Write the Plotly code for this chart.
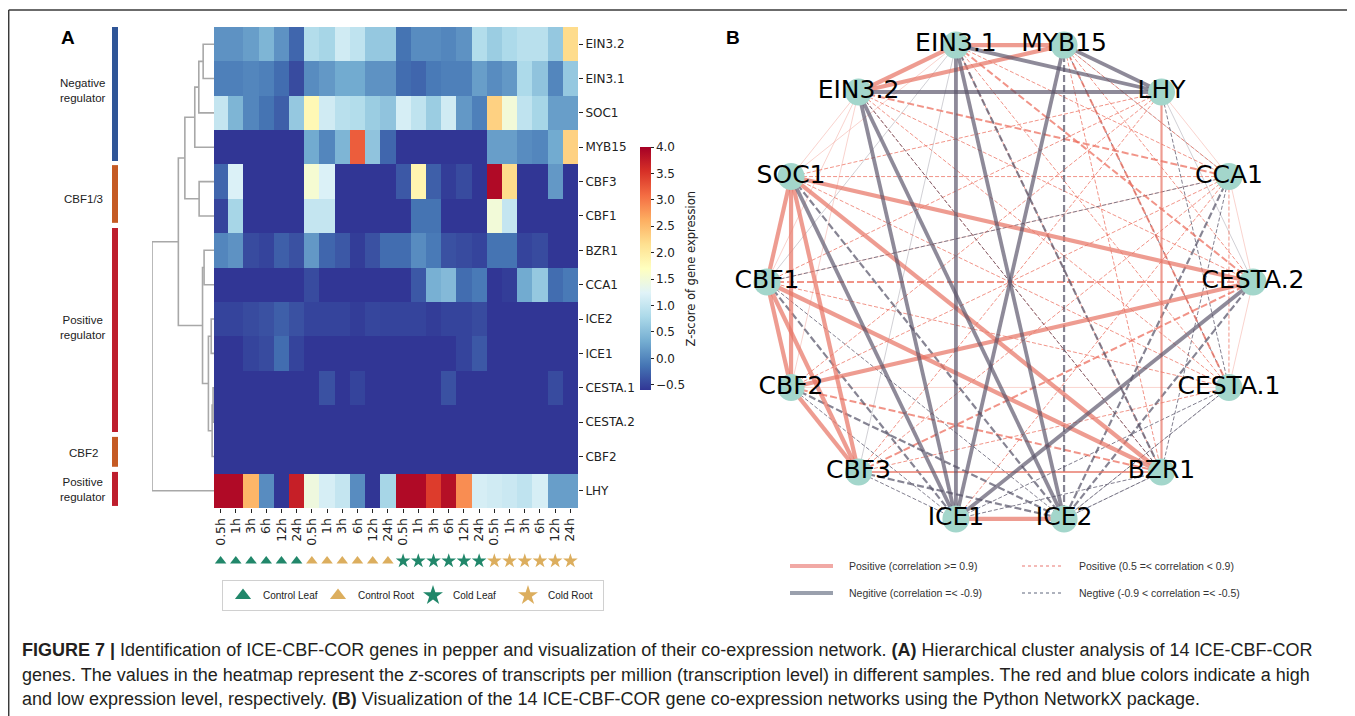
import math
import plotly.graph_objects as go

PAGE_W, PAGE_H = 1355, 716
OFF = 8  # default body margin of the html page
W, H = PAGE_W - OFF, PAGE_H - OFF


def px(x):
    return (x - OFF) / W


def py(y):
    return 1 - (y - OFF) / H


# ---------------- Panel A data ----------------
genes = ["EIN3.2", "EIN3.1", "SOC1", "MYB15", "CBF3", "CBF1", "BZR1",
         "CCA1", "ICE2", "ICE1", "CESTA.1", "CESTA.2", "CBF2", "LHY"]
time_points = ["0.5h", "1h", "3h", "6h", "12h", "24h"]
sample_groups = ["Control Leaf", "Control Root", "Cold Leaf", "Cold Root"]
sample_labels = time_points * 4

z_EIN3_2 = [0.1, 0.1, 0.2, 0.4, 0.1, -0.25, 0.85, 0.75, 1.1, 0.95, 0.6, 0.6,
            -0.15, 0.05, 0.05, 0.0, 0.1, 0.85, 0.65, 0.8, 0.9, 0.9, 0.6, 2.2]
z_EIN3_1 = [-0.05, -0.05, 0.0, -0.05, -0.2, -0.45, 0.05, 0.15, 0.3, 0.3, 0.1, 0.1,
            -0.2, -0.25, -0.1, -0.05, -0.05, 0.2, 0.05, 0.15, 0.8, 0.55, 0.0, 0.6]
z_SOC1 = [1.0, 0.4, 0.0, -0.15, -0.3, 0.6, 1.8, 1.1, 0.9, 0.85, 0.65, 0.55,
          1.15, 0.95, 0.65, 1.1, 0.15, -0.05, 2.3, 1.5, 0.95, 0.75, 0.2, 0.2]
z_MYB15 = [-0.6, -0.6, -0.6, -0.6, -0.6, -0.6, 0.3, 0.0, 0.4, 3.2, 0.55, -0.25,
           -0.6, -0.6, -0.6, -0.6, -0.6, -0.6, 0.2, 0.2, 0.05, 0.0, 0.3, 2.3]
z_CBF3 = [-0.25, 1.2, -0.6, -0.6, -0.6, -0.6, 1.55, 1.2, -0.6, -0.6, -0.6, -0.6,
          -0.35, 1.85, -0.3, -0.55, -0.45, -0.6, 3.9, 2.2, -0.6, -0.6, 0.15, -0.6]
z_CBF1 = [-0.5, 0.75, -0.6, -0.6, -0.6, -0.6, 1.0, 1.0, -0.6, -0.6, -0.6, -0.6,
          -0.6, -0.15, -0.15, -0.6, -0.6, -0.6, 1.5, 1.0, -0.6, -0.6, -0.6, -0.6]
z_BZR1 = [0.0, 0.1, -0.45, -0.5, -0.3, -0.4, 0.15, -0.25, -0.35, -0.55, -0.4, -0.2,
          -0.2, 0.05, -0.1, -0.4, -0.45, -0.5, -0.15, -0.15, -0.5, -0.45, -0.6, -0.6]
z_CCA1 = [-0.6, -0.6, -0.6, -0.6, -0.6, -0.6, -0.45, -0.6, -0.6, -0.6, -0.6, -0.6,
          -0.6, -0.35, 0.35, 0.45, -0.2, -0.1, -0.6, -0.55, 0.3, 0.6, -0.2, -0.1]
z_ICE2 = [-0.5, -0.5, -0.45, -0.4, -0.3, -0.4, -0.5, -0.5, -0.5, -0.55, -0.48, -0.5,
          -0.5, -0.5, -0.55, -0.5, -0.5, -0.45, -0.6, -0.6, -0.6, -0.6, -0.6, -0.6]
z_ICE1 = [-0.6, -0.6, -0.5, -0.45, -0.2, -0.5, -0.6, -0.6, -0.6, -0.6, -0.6, -0.6,
          -0.6, -0.6, -0.6, -0.6, -0.5, -0.35, -0.6, -0.6, -0.6, -0.6, -0.6, -0.6]
z_CESTA_1 = [-0.6, -0.6, -0.6, -0.6, -0.6, -0.6, -0.6, -0.4, -0.6, -0.5, -0.6, -0.6,
             -0.6, -0.6, -0.6, -0.4, -0.6, -0.6, -0.6, -0.6, -0.6, -0.6, -0.45, -0.6]
z_CESTA_2 = [-0.6] * 24
z_CBF2 = [-0.6] * 24
z_LHY = [3.9, 3.9, 2.55, 0.05, -0.6, 3.7, 1.45, 1.15, 1.0, 0.05, -0.6, 0.75,
         3.9, 3.9, 3.45, 3.85, 2.85, 1.15, 1.1, 1.05, 0.95, 1.15, 0.2, 0.2]

zscores = [z_EIN3_2, z_EIN3_1, z_SOC1, z_MYB15, z_CBF3, z_CBF1, z_BZR1,
           z_CCA1, z_ICE2, z_ICE1, z_CESTA_1, z_CESTA_2, z_CBF2, z_LHY]

cbar_ticks = [-0.5, 0.0, 0.5, 1.0, 1.5, 2.0, 2.5, 3.0, 3.5, 4.0]

# hierarchical clustering merges: (left, right, height)
dendro_merges = [
    ("EIN3.2", "EIN3.1", 1.75),
    ("m0", "SOC1", 2.45),
    ("m1", "MYB15", 3.1),
    ("CBF3", "CBF1", 2.4),
    ("m2", "m3", 4.7),
    ("BZR1", "CCA1", 1.6),
    ("ICE2", "ICE1", 0.45),
    ("CESTA.1", "CESTA.2", 0.15),
    ("m7", "CBF2", 0.3),
    ("m6", "m8", 0.9),
    ("m5", "m9", 1.85),
    ("m4", "m10", 5.75),
    ("m11", "LHY", 10.0),
]

# side annotation bars: (label, span start, span end (row units), colour, label row)
row_groups = [
    ("Negative<br>regulator", -0.5, 3.4, "#2f5597", 1.35),
    ("CBF1/3", 3.52, 5.2, "#c55a23", 4.5),
    ("Positive<br>regulator", 5.35, 11.29, "#be1e2d", 8.25),
    ("CBF2", 11.43, 12.3, "#c55a23", 11.9),
    ("Positive<br>regulator", 12.45, 13.44, "#be1e2d", 12.95),
]

group_symbols = ["triangle-up", "triangle-up", "star", "star"]
group_colors = ["#21876a", "#dcae5e", "#21876a", "#dcae5e"]

# ---------------- Panel B data ----------------
net_nodes = ["CESTA.2", "CCA1", "LHY", "MYB15", "EIN3.1", "EIN3.2", "SOC1",
             "CBF1", "CBF2", "CBF3", "ICE1", "ICE2", "BZR1", "CESTA.1"]

pos_strong = [("EIN3.1", "MYB15"), ("EIN3.2", "EIN3.1"), ("EIN3.2", "MYB15"),
              ("SOC1", "CBF1"), ("SOC1", "CBF2"), ("SOC1", "CBF3"),
              ("CBF1", "CBF2"), ("CBF1", "CBF3"), ("CBF2", "CBF3"),
              ("SOC1", "CESTA.2"), ("CBF2", "CESTA.2"), ("CBF1", "BZR1"),
              ("SOC1", "BZR1"), ("ICE1", "ICE2")]
pos_solid_mid = [("CBF3", "BZR1"), ("LHY", "BZR1")]
neg_strong = [("EIN3.1", "LHY"), ("MYB15", "LHY"), ("EIN3.2", "LHY"),
              ("EIN3.1", "ICE1"), ("EIN3.1", "ICE2"), ("MYB15", "ICE1"),
              ("EIN3.2", "ICE1"), ("EIN3.2", "ICE2"), ("SOC1", "ICE1"),
              ("CESTA.2", "ICE1")]
pos_dash = [("CBF1", "CESTA.2"), ("CBF3", "CESTA.2"), ("CBF2", "BZR1"),
            ("EIN3.1", "CESTA.2"), ("EIN3.2", "CCA1"), ("MYB15", "CESTA.1")]
pos_dash_thin = [("EIN3.1", "CCA1"), ("EIN3.1", "CESTA.1"), ("EIN3.1", "BZR1"),
                 ("MYB15", "CESTA.2"), ("MYB15", "BZR1"), ("MYB15", "CCA1"),
                 ("EIN3.2", "CESTA.2"), ("EIN3.2", "CESTA.1"), ("EIN3.2", "BZR1"),
                 ("LHY", "CBF1"), ("LHY", "CBF2"), ("LHY", "CBF3"), ("LHY", "SOC1"),
                 ("CCA1", "CBF2"), ("CCA1", "CBF3"), ("CESTA.1", "CBF1"),
                 ("SOC1", "CCA1"), ("SOC1", "CESTA.1"), ("CCA1", "ICE1"),
                 ("CESTA.1", "CBF3"), ("CCA1", "CESTA.1")]
neg_dash = [("MYB15", "ICE2"), ("SOC1", "ICE2"), ("CCA1", "ICE2"),
            ("CESTA.2", "ICE2"), ("CBF1", "ICE1"), ("CBF2", "ICE2"),
            ("EIN3.1", "BZR1"), ("CBF3", "ICE2")]
neg_dash_thin = [("CBF1", "ICE2"), ("CBF2", "ICE1"), ("CBF3", "ICE1"),
                 ("BZR1", "ICE1"), ("BZR1", "ICE2"),
                 ("CESTA.1", "ICE1"), ("CESTA.1", "ICE2"), ("LHY", "CESTA.1"),
                 ("CCA1", "CBF1"), ("EIN3.2", "BZR1"), ("MYB15", "CESTA.1"),
                 ("CCA1", "BZR1")]
pos_weak = [("SOC1", "EIN3.2"), ("SOC1", "EIN3.1"), ("CBF1", "EIN3.2"),
            ("CBF2", "EIN3.2"), ("CBF1", "CCA1"), ("CBF2", "CESTA.1"),
            ("CCA1", "CESTA.2"), ("CESTA.2", "CESTA.1"), ("CCA1", "LHY")]
neg_weak = [("CBF1", "EIN3.1"), ("CBF3", "EIN3.1"), ("CCA1", "MYB15"),
            ("LHY", "CESTA.2"), ("ICE2", "BZR1"), ("ICE2", "CESTA.1")]

edge_styles = [
    (pos_weak, "rgba(236,120,105,0.55)", 0.6, "solid"),
    (neg_weak, "rgba(100,96,115,0.5)", 0.6, "solid"),
    (pos_dash_thin, "rgba(236,112,96,0.75)", 1.0, "4px,2px"),
    (neg_dash_thin, "rgba(88,84,106,0.75)", 1.0, "4px,2px"),
    (pos_dash, "rgba(236,112,96,0.75)", 2.0, "7px,3px"),
    (neg_dash, "rgba(88,84,106,0.72)", 2.2, "7px,3px"),
    (pos_solid_mid, "rgba(232,118,102,0.72)", 2.2, "solid"),
    (pos_strong, "rgba(232,118,102,0.72)", 4.2, "solid"),
    (neg_strong, "rgba(88,82,104,0.68)", 3.8, "solid"),
]

net_legend_labels = ["Positive (correlation &gt;= 0.9)",
                     "Negitive (correlation =&lt; -0.9)",
                     "Positive (0.5 =&lt; correlation &lt; 0.9)",
                     "Negtive (-0.9 &lt; correlation =&lt; -0.5)"]
net_legend_colors = ["rgba(236,140,135,0.75)", "rgba(120,128,145,0.75)",
                     "rgba(236,140,135,0.8)", "rgba(120,128,145,0.8)"]

# ---------------- build figure ----------------
fig = go.Figure()

RdYlBu_r = [[0.0, "#313695"], [0.1, "#4575b4"], [0.2, "#74add1"], [0.3, "#abd9e9"],
            [0.4, "#e0f3f8"], [0.5, "#ffffbf"], [0.6, "#fee090"], [0.7, "#fdae61"],
            [0.8, "#f46d43"], [0.9, "#d73027"], [1.0, "#a50026"]]

ncol = len(sample_labels)
nrow = len(genes)

fig.add_trace(go.Heatmap(
    z=zscores, x=list(range(ncol)), y=list(range(nrow)),
    colorscale=RdYlBu_r, zmin=-0.6, zmax=4.0,
    xaxis="x", yaxis="y", hoverinfo="skip",
    colorbar=dict(
        x=px(640), xanchor="left", y=py(268.5), yanchor="middle",
        len=243, lenmode="pixels", thickness=11, thicknessmode="pixels",
        tickvals=cbar_ticks,
        ticktext=[("\u2212%.1f" % -t) if t < 0 else "%.1f" % t for t in cbar_ticks],
        ticks="outside", ticklen=3, tickwidth=1, tickcolor="#222",
        tickfont=dict(family="DejaVu Sans", size=12, color="#222"),
        outlinewidth=0, xpad=0, ypad=0,
    ),
))

# dendrogram
node_y = {g: i for i, g in enumerate(genes)}
node_h = {g: 0.0 for g in genes}
dx, dy = [], []
for k, (a, b, h) in enumerate(dendro_merges):
    ya, yb = node_y[a], node_y[b]
    ha, hb = node_h[a], node_h[b]
    dx += [ha, h, h, hb, None]
    dy += [ya, ya, yb, yb, None]
    node_y["m%d" % k] = (ya + yb) / 2
    node_h["m%d" % k] = h
fig.add_trace(go.Scatter(x=dx, y=dy, mode="lines", xaxis="x2", yaxis="y2",
                         line=dict(color="#a8a8a8", width=1.6), hoverinfo="skip",
                         showlegend=False))

# sample group markers under heatmap (+ larger legend samples)
for gi, gname in enumerate(sample_groups):
    is_tri = "triangle" in group_symbols[gi]
    xs = [gi * 6 + j for j in range(6)]
    fig.add_trace(go.Scatter(
        x=xs, y=[0] * 6, mode="markers", xaxis="x", yaxis="y3", name=gname,
        marker=dict(symbol=group_symbols[gi], color=group_colors[gi],
                    size=10 if is_tri else 11, line=dict(width=0)),
        hoverinfo="skip", showlegend=False))
    fig.add_trace(go.Scatter(
        x=[None], y=[None], mode="markers", xaxis="x", yaxis="y3", name=gname,
        marker=dict(symbol=group_symbols[gi], color=group_colors[gi],
                    size=14 if is_tri else 15, line=dict(width=0)),
        hoverinfo="skip", legend="legend"))

# network
n = len(net_nodes)
node_xy = {g: (math.cos(2 * math.pi * i / n), math.sin(2 * math.pi * i / n))
           for i, g in enumerate(net_nodes)}
for edges, color, width, dash in edge_styles:
    ex, ey = [], []
    for a, b in edges:
        ex += [node_xy[a][0], node_xy[b][0], None]
        ey += [node_xy[a][1], node_xy[b][1], None]
    fig.add_trace(go.Scatter(x=ex, y=ey, mode="lines", xaxis="x4", yaxis="y4",
                             line=dict(color=color, width=width, dash=dash),
                             hoverinfo="skip", showlegend=False, cliponaxis=False))

fig.add_trace(go.Scatter(
    x=[node_xy[g][0] for g in net_nodes], y=[node_xy[g][1] for g in net_nodes],
    mode="markers+text", text=net_nodes, textposition="middle center",
    textfont=dict(family="DejaVu Sans", size=25, color="black"),
    marker=dict(size=27, color="#a3d6cb", line=dict(width=0)),
    xaxis="x4", yaxis="y4", hoverinfo="skip", showlegend=False, cliponaxis=False))

# ---------------- layout ----------------
hidden = dict(visible=False, showgrid=False, zeroline=False)
net_half = 262 / 243.0

shapes = [
    dict(type="line", xref="paper", yref="paper", x0=px(8.7), y0=py(10), x1=1, y1=py(10),
         line=dict(color="#3a3a3a", width=1.5)),
    dict(type="line", xref="paper", yref="paper", x0=px(8.7), y0=py(10), x1=px(8.7), y1=0,
         line=dict(color="#3a3a3a", width=1.5)),
]
annotations = []
for label, s0, s1, col, ly in row_groups:
    shapes.append(dict(type="rect", xref="paper", yref="y2", x0=px(112), x1=px(118),
                       y0=s0, y1=s1, fillcolor=col, line=dict(width=0)))
    annotations.append(dict(text=label, xref="paper", yref="y2", x=px(83), y=ly,
                            showarrow=False, align="center", xanchor="center",
                            yanchor="middle",
                            font=dict(family="Liberation Sans", size=11.5, color="#222")))

annotations += [
    dict(text="<b>A</b>", xref="paper", yref="paper", x=px(68), y=py(37), showarrow=False,
         xanchor="center", yanchor="middle",
         font=dict(family="Liberation Sans", size=19, color="black")),
    dict(text="<b>B</b>", xref="paper", yref="paper", x=px(733), y=py(37), showarrow=False,
         xanchor="center", yanchor="middle",
         font=dict(family="Liberation Sans", size=19, color="black")),
    dict(text="Z-score of gene expression", xref="paper", yref="paper", x=px(690),
         y=py(268.5), textangle=-90, showarrow=False, xanchor="center", yanchor="middle",
         font=dict(family="DejaVu Sans", size=11.5, color="#222")),
]

# network legend (drawn as samples + labels)
net_leg_pos = [(790, 566), (790, 593), (1022, 566), (1022, 593)]
net_leg_style = [(4, "solid", 43, 14), (4, "solid", 43, 14), (1.6, "dot", 40, 15), (1.6, "dot", 40, 15)]
for (lx, ly), (lw, ld, ll, gap), lab, col in zip(net_leg_pos, net_leg_style,
                                                 net_legend_labels, net_legend_colors):
    shapes.append(dict(type="line", xref="paper", yref="paper", x0=px(lx), x1=px(lx + ll),
                       y0=py(ly), y1=py(ly), line=dict(color=col, width=lw, dash=ld)))
    annotations.append(dict(text=lab, xref="paper", yref="paper", x=px(lx + ll + gap),
                            y=py(ly), xanchor="left", yanchor="middle", showarrow=False,
                            font=dict(family="Liberation Sans", size=10.5, color="#333")))

caption_lines = [
    "<b>FIGURE 7 |</b> Identification of ICE-CBF-COR genes in pepper and visualization of their "
    "co-expression network. <b>(A)</b> Hierarchical cluster analysis of 14 ICE-CBF-COR",
    "genes. The values in the heatmap represent the <i>z</i>-scores of transcripts per million "
    "(transcription level) in different samples. The red and blue colors indicate a high",
    "and low expression level, respectively. <b>(B)</b> Visualization of the 14 ICE-CBF-COR gene "
    "co-expression networks using the Python NetworkX package.",
]
for i, line in enumerate(caption_lines):
    annotations.append(dict(text=line, xref="paper", yref="paper", x=px(20), y=py(650 + 24.5 * i),
                            xanchor="left", yanchor="middle", showarrow=False,
                            font=dict(family="Liberation Sans", size=18, color="#231f20")))

fig.update_layout(
    width=W, height=H, margin=dict(l=0, r=0, t=0, b=0),
    paper_bgcolor="white", plot_bgcolor="white",
    xaxis=dict(domain=[px(213), px(578)], anchor="y", range=[-0.5, ncol - 0.5],
               tickvals=list(range(ncol)), ticktext=sample_labels, tickangle=-90,
               ticks="outside", ticklen=4, tickcolor="#222",
               tickfont=dict(family="DejaVu Sans", size=12.5, color="#222"),
               showgrid=False, zeroline=False, showline=False),
    yaxis=dict(domain=[py(508), py(27)], anchor="x", range=[nrow - 0.5, -0.5], side="right",
               tickvals=list(range(nrow)), ticktext=genes, ticks="outside", ticklen=4,
               tickcolor="#222", tickfont=dict(family="DejaVu Sans", size=12, color="#222"),
               showgrid=False, zeroline=False, showline=False),
    xaxis2=dict(domain=[px(152), px(214)], anchor="y2", range=[10.0, 0.0], **hidden),
    yaxis2=dict(domain=[py(508), py(27)], anchor="x2", range=[nrow - 0.5, -0.5], **hidden),
    yaxis3=dict(domain=[py(575), py(547)], anchor="x", range=[-1, 1], **hidden),
    xaxis4=dict(domain=[px(1010 - 262), px(1010 + 262)], anchor="y4",
                range=[-net_half, net_half], **hidden),
    yaxis4=dict(domain=[py(282 + 262), py(282 - 262)], anchor="x4",
                range=[-net_half, net_half], **hidden),
    legend=dict(x=px(222), y=py(580), xanchor="left", yanchor="top", orientation="h",
                bordercolor="#d0d0d0", borderwidth=1, bgcolor="white",
                font=dict(family="Liberation Sans", size=10, color="#222"),
                itemsizing="trace", entrywidth=50, tracegroupgap=0),
    shapes=shapes, annotations=annotations,
)

fig.write_html("out.html")
